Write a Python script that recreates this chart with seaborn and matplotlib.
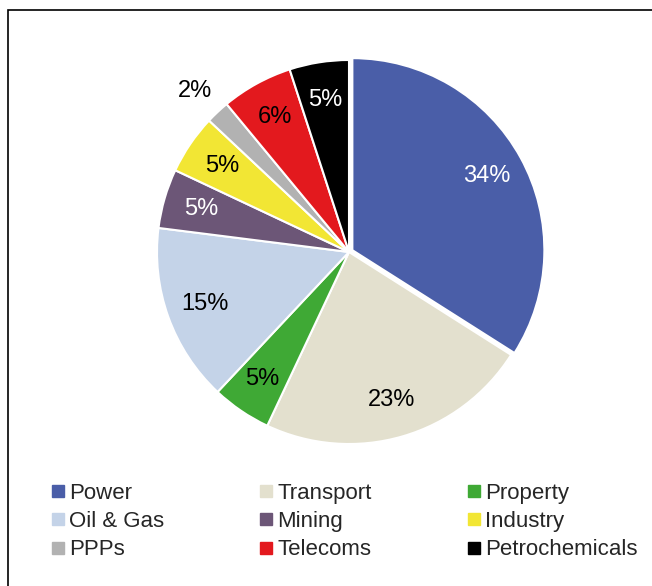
import numpy as np
import matplotlib
matplotlib.use("Agg")
import matplotlib.pyplot as plt
import seaborn as sns
from matplotlib.lines import Line2D
from matplotlib.patches import Rectangle

# sector shares (%), clockwise from 12 o'clock
sectors = ['Power', 'Transport', 'Property', 'Oil & Gas', 'Mining',
           'Industry', 'PPPs', 'Telecoms', 'Petrochemicals']
shares = [34, 23, 5, 15, 5, 5, 2, 6, 5]
colors = ['#4A5EA8', '#E3E0CE', '#3FA935', '#C4D3E8', '#6C5677',
          '#F2E634', '#B2B2B2', '#E3191E', '#000000']
label_colors = ['white', 'black', 'black', 'black', 'white',
                'black', 'black', 'black', 'white']

sns.set_theme(style='white')
plt.rcParams['font.family'] = ['Liberation Sans', 'DejaVu Sans']

W, H = 652, 586
fig = plt.figure(figsize=(W / 100, H / 100), dpi=100)
fig.patch.set_facecolor('white')

# border box (left and top visible, runs off right/bottom)
fig.patches.append(Rectangle((8 / W, -0.05), 1.2, (H - 10) / H + 0.05,
                             transform=fig.transFigure, fill=False,
                             edgecolor='black', linewidth=1.2))

R = 192
cx, cy = 349, 252
half = 200
ax = fig.add_axes([(cx - half) / W, (H - cy - half) / H, 2 * half / W, 2 * half / H])

explode = [0.02] + [0] * (len(shares) - 1)
wedges, texts, autotexts = ax.pie(
    shares, colors=colors, startangle=90, counterclock=False,
    explode=explode, autopct='%d%%', pctdistance=0.8,
    wedgeprops=dict(edgecolor='white', linewidth=1.5),
    textprops=dict(fontsize=17))
for t, c in zip(autotexts, label_colors):
    t.set_color(c)
# the small PPPs slice carries its label outside
ppp = sectors.index('PPPs')
x, y = autotexts[ppp].get_position()
autotexts[ppp].set_position((x / 0.8 * 1.17, y / 0.8 * 1.15))

lim = half / R
ax.set_xlim(-lim, lim)
ax.set_ylim(-lim, lim)
ax.set_aspect('equal')
ax.axis('off')

# legend, row-major order across three columns
order = [0, 3, 6, 1, 4, 7, 2, 5, 8]
handles = [Line2D([], [], marker='s', linestyle='none', markersize=8.5,
                  markerfacecolor=colors[i], markeredgecolor=colors[i])
           for i in order]
fig.legend(handles, [sectors[i] for i in order], ncol=3,
           loc='upper left', bbox_to_anchor=(40 / W, 1 - 472 / H),
           frameon=False, fontsize=16, handlelength=0.6, handletextpad=0.2,
           columnspacing=4.3, labelspacing=0.32, borderpad=0)

fig.savefig('out.png', dpi=100, facecolor='white')
